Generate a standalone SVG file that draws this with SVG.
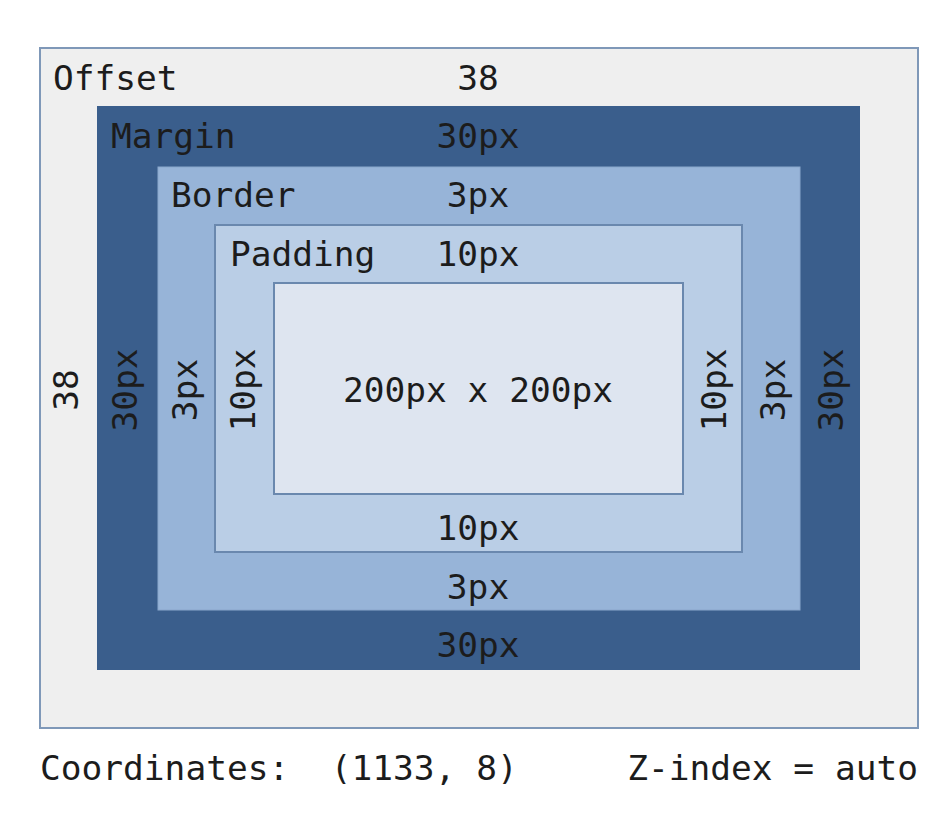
<svg xmlns="http://www.w3.org/2000/svg" width="948" height="814" viewBox="0 0 948 814">
<style>
text{font-family:"DejaVu Sans Mono","Liberation Mono",monospace;font-size:34.5px;fill:#1c1c1c}
.c{text-anchor:middle}
.v{text-anchor:middle;dominant-baseline:central}
.box{stroke:#6a88ae;stroke-width:2}
</style>
<rect width="948" height="814" fill="#ffffff"/>
<g id="offset">
<rect x="40" y="48" width="878" height="680" fill="#efefef" stroke="#7f98b8" stroke-width="2"/>
<text x="53" y="90">Offset</text>
<text class="c" x="478" y="90">38</text>
<text class="v" transform="translate(66,390) rotate(-90)">38</text>
</g>
<g id="margin">
<rect x="97" y="106" width="763" height="564" fill="#3a5e8c"/>
<text x="111" y="148">Margin</text>
<text class="c" x="478" y="148">30px</text>
<text class="c" x="478" y="657">30px</text>
<text class="v" transform="translate(125,390) rotate(-90)">30px</text>
<text class="v" transform="translate(831,390) rotate(-90)">30px</text>
</g>
<g id="border">
<rect x="158" y="167" width="642" height="443" fill="#97b4d8" stroke="#8aa7cc" stroke-width="1"/>
<text x="171" y="207">Border</text>
<text class="c" x="478" y="207">3px</text>
<text class="c" x="478" y="599">3px</text>
<text class="v" transform="translate(185,390) rotate(-90)">3px</text>
<text class="v" transform="translate(773,390) rotate(-90)">3px</text>
</g>
<g id="padding">
<rect class="box" x="215" y="225" width="527" height="327" fill="#bacee6"/>
<text x="230" y="266">Padding</text>
<text class="c" x="478" y="266">10px</text>
<text class="c" x="478" y="540">10px</text>
<text class="v" transform="translate(243,390) rotate(-90)">10px</text>
<text class="v" transform="translate(714,390) rotate(-90)">10px</text>
</g>
<g id="content">
<rect class="box" x="274" y="283" width="409" height="211" fill="#dee5f0"/>
<text class="c" x="478" y="402">200px x 200px</text>
</g>
<g id="footer">
<text x="40" y="780" xml:space="preserve">Coordinates:  (1133, 8)</text>
<text x="918" y="780" text-anchor="end">Z-index = auto</text>
</g>
<g id="connectors"/>
</svg>
